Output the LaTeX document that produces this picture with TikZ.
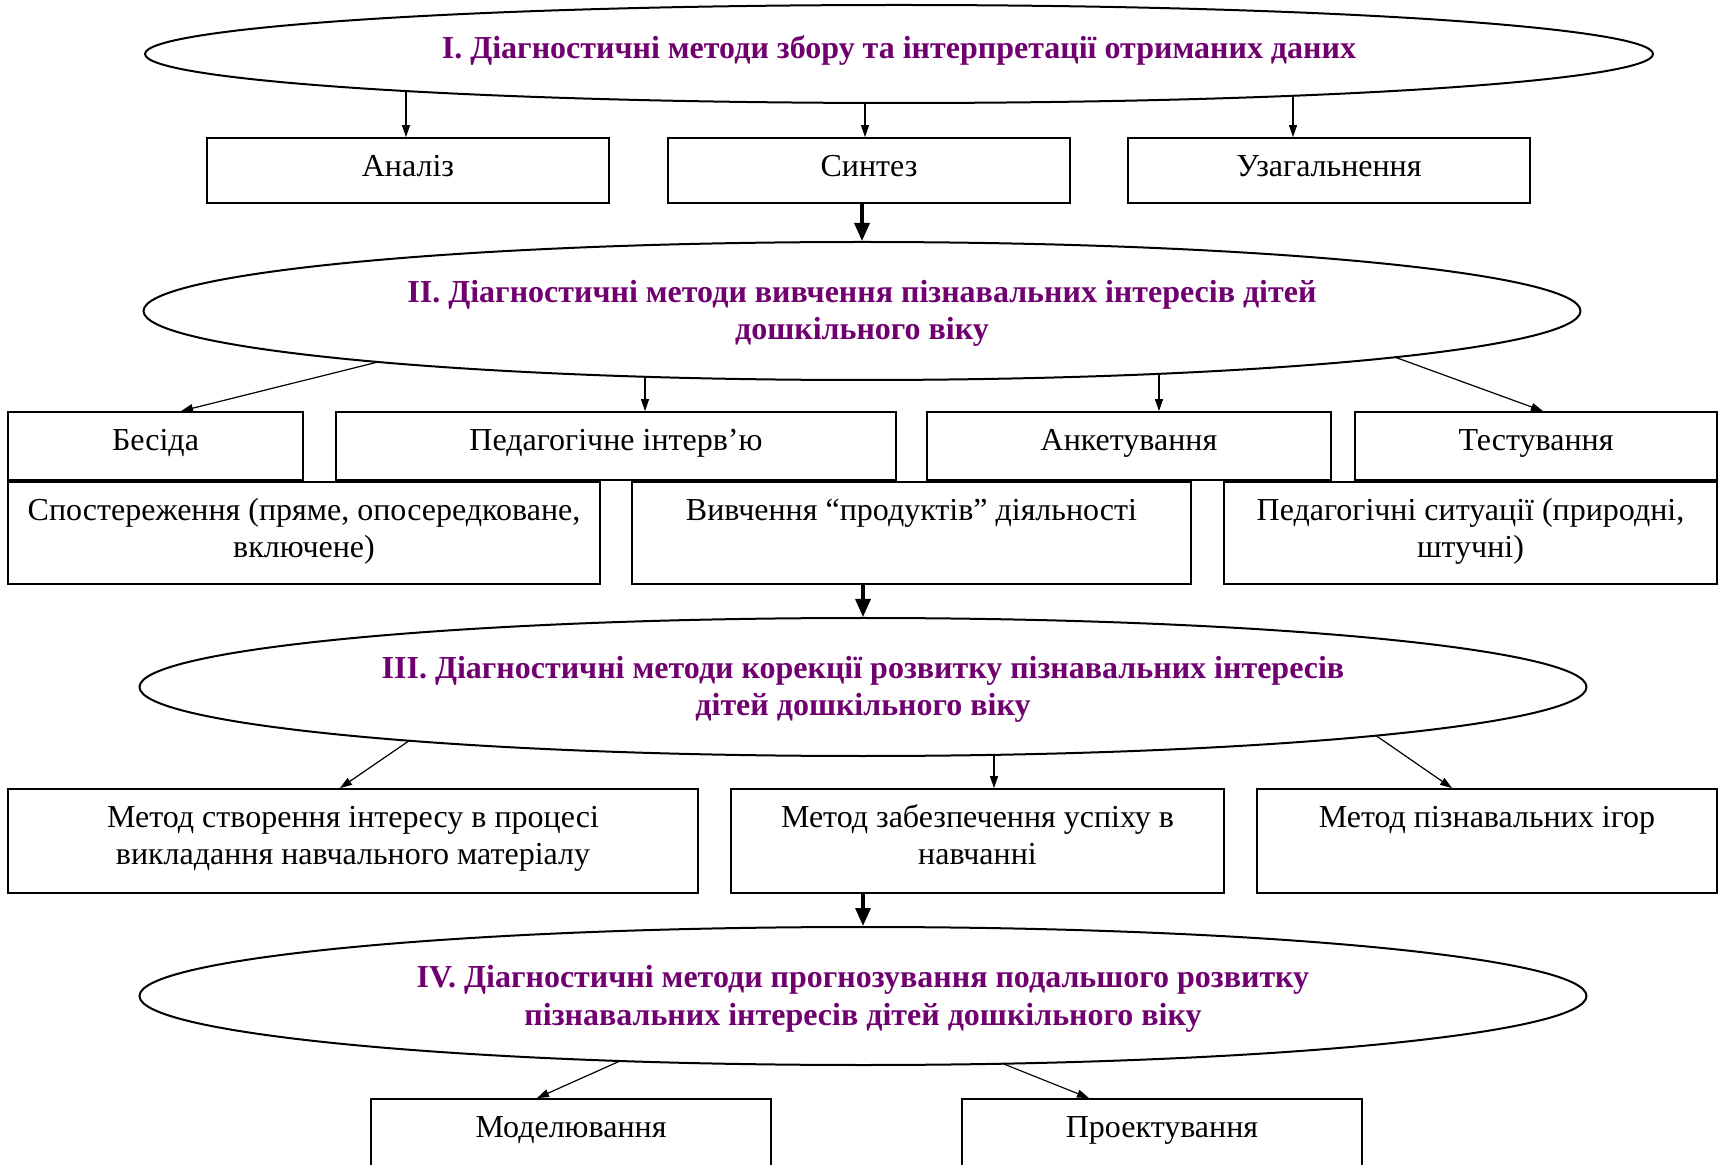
\documentclass[tikz,border=0pt]{standalone}
\usepackage{fontspec}
\setmainfont{Liberation Serif}
\usetikzlibrary{arrows.meta,shapes.geometric}
\definecolor{ttl}{RGB}{112,0,112}
\begin{document}
\begin{tikzpicture}[x=0.5pt,y=-0.5pt,
  box/.style={draw, line width=0.9pt, inner sep=0pt, fill=white},
  ell/.style={ellipse, draw, line width=1pt, inner sep=0pt},
  ttltxt/.style={inner sep=0pt, align=center, text=ttl,
    font=\fontsize{16}{18.8}\selectfont\bfseries},
  txt/.style={anchor=north, inner sep=0pt, align=center, font=\fontsize{16}{18.5}\selectfont},
  arr/.style={line width=0.6pt, -{Triangle[length=6pt,width=4pt]}},
  bigarr/.style={line width=1.6pt, -{Triangle[length=9pt,width=7.5pt]}}]
\clip (0,0) rectangle (1719,1165);
\useasboundingbox (0,0) rectangle (1719,1165);

% ellipses
\node[ell, minimum width=754pt, minimum height=49pt] (e1) at (899,54) {};
\node[ell, minimum width=718.5pt, minimum height=69pt] (e2) at (862,311) {};
\node[ell, minimum width=723.5pt, minimum height=69pt] (e3) at (863,687) {};
\node[ell, minimum width=723.5pt, minimum height=69pt] (e4) at (863,996) {};
\node[ttltxt] (h1) at ([yshift=1.6pt]e1.center)
  {I. Діагностичні методи збору та інтерпретації отриманих даних};
\node[ttltxt] (h2) at ([yshift=-1.2pt]e2.center)
  {II. Діагностичні методи вивчення пізнавальних інтересів дітей\\дошкільного віку};
\node[ttltxt] (h3) at ([yshift=-1.2pt]e3.center)
  {III. Діагностичні методи корекції розвитку пізнавальних інтересів\\дітей дошкільного віку};
\node[ttltxt] (h4) at ([yshift=-1.4pt]e4.center)
  {IV. Діагностичні методи прогнозування подальшого розвитку\\пізнавальних інтересів дітей дошкільного віку};

% row 1
\node[box, minimum width=201pt, minimum height=32.5pt] (b11) at (408,170.5) {};
\node[box, minimum width=201pt, minimum height=32.5pt] (b12) at (869,170.5) {};
\node[box, minimum width=201pt, minimum height=32.5pt] (b13) at (1329,170.5) {};
\node[txt] (t11) at ([yshift=-6.8pt]b11.north) {\strut Аналіз};
\node[txt] (t12) at ([yshift=-6.8pt]b12.north) {\strut Синтез};
\node[txt] (t13) at ([yshift=-6.8pt]b13.north) {\strut Узагальнення};

% row 2
\node[box, minimum width=147.5pt, minimum height=34pt] (b21) at (155.5,446) {};
\node[box, minimum width=280pt, minimum height=34pt] (b22) at (616,446) {};
\node[box, minimum width=202pt, minimum height=34pt] (b23) at (1129,446) {};
\node[box, minimum width=181pt, minimum height=34pt] (b24) at (1536,446) {};
\node[txt] (t21) at ([yshift=-6.8pt]b21.north) {\strut Бесіда};
\node[txt] (t22) at ([yshift=-6.8pt]b22.north) {\strut Педагогічне інтерв’ю};
\node[txt] (t23) at ([yshift=-6.8pt]b23.north) {\strut Анкетування};
\node[txt] (t24) at ([yshift=-6.8pt]b24.north) {\strut Тестування};

% row 3
\node[box, minimum width=296pt, minimum height=51pt] (b31) at (304,533) {};
\node[box, minimum width=279.5pt, minimum height=51pt] (b32) at (911.5,533) {};
\node[box, minimum width=246.5pt, minimum height=51pt] (b33) at (1470.5,533) {};
\node[txt] (t31) at ([yshift=-6.6pt]b31.north) {\strut Спостереження (пряме, опосередковане,\\включене)};
\node[txt] (t32) at ([yshift=-6.6pt]b32.north) {\strut Вивчення “продуктів” діяльності};
\node[txt] (t33) at ([yshift=-6.6pt]b33.north) {\strut Педагогічні ситуації (природні,\\штучні)};

% row 4
\node[box, minimum width=345pt, minimum height=52pt] (b41) at (353,841) {};
\node[box, minimum width=246.5pt, minimum height=52pt] (b42) at (977.5,841) {};
\node[box, minimum width=230pt, minimum height=52pt] (b43) at (1487,841) {};
\node[txt] (t41) at ([yshift=-6.6pt]b41.north) {\strut Метод створення інтересу в процесі\\викладання навчального матеріалу};
\node[txt] (t42) at ([yshift=-6.6pt]b42.north) {\strut Метод забезпечення успіху в\\навчанні};
\node[txt] (t43) at ([yshift=-6.6pt]b43.north) {\strut Метод пізнавальних ігор};

% row 5
\node[box, minimum width=200pt, minimum height=45pt] (b51) at (571,1144) {};
\node[box, minimum width=200pt, minimum height=45pt] (b52) at (1162,1144) {};
\node[txt] (t51) at ([yshift=-6.4pt]b51.north) {\strut Моделювання};
\node[txt] (t52) at ([yshift=-6.4pt]b52.north) {\strut Проектування};

% arrows from ellipse I
\draw[arr] ([xshift=-246.5pt,yshift=-18.5pt]e1.center) -- ([xshift=-1pt]b11.north);
\draw[arr] ([xshift=-17pt,yshift=-24.5pt]e1.center) -- ([xshift=-2pt]b12.north);
\draw[arr] ([xshift=197pt,yshift=-20.9pt]e1.center) -- ([xshift=-18pt]b13.north);
% arrows from ellipse II
\draw[arr] ([xshift=-242pt,yshift=-25.5pt]e2.center) -- ([xshift=12.75pt]b21.north);
\draw[arr] ([xshift=-108.5pt,yshift=-32.9pt]e2.center) -- ([xshift=14.5pt]b22.north);
\draw[arr] ([xshift=148.5pt,yshift=-31.4pt]e2.center) -- ([xshift=15pt]b23.north);
\draw[arr] ([xshift=266.5pt,yshift=-23.1pt]e2.center) -- ([xshift=3.5pt]b24.north);
% arrows from ellipse III
\draw[arr] ([xshift=-227pt,yshift=-26.9pt]e3.center) -- ([xshift=-6.5pt]b41.north);
\draw[arr] ([xshift=65.5pt,yshift=-33.9pt]e3.center) -- ([xshift=8.25pt]b42.north);
\draw[arr] ([xshift=256.5pt,yshift=-24.3pt]e3.center) -- ([xshift=-17.5pt]b43.north);
% arrows from ellipse IV
\draw[arr] ([xshift=-121.5pt,yshift=-32.5pt]e4.center) -- ([xshift=-17pt]b51.north);
\draw[arr] ([xshift=70pt,yshift=-33.85pt]e4.center) -- ([xshift=-36.5pt]b52.north);

% thick arrows between levels
\draw[bigarr] (e2.north |- b12.south) -- (e2.north);
\draw[bigarr] (e3.north |- b32.south) -- (e3.north);
\draw[bigarr] (e4.north |- b42.south) -- (e4.north);
\end{tikzpicture}
\end{document}
